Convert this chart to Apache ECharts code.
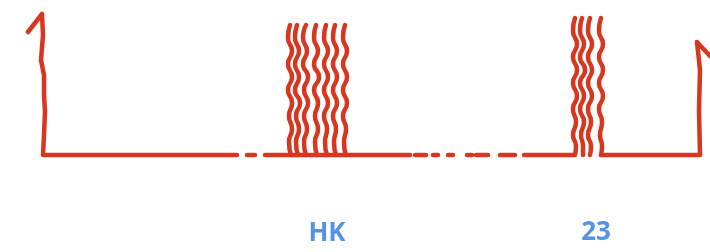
<!DOCTYPE html>
<html>
<head>
<meta charset="utf-8">
<script src="https://cdn.jsdelivr.net/npm/echarts@6/dist/echarts.min.js"></script>
<style>
  html, body { margin: 0; padding: 0; background: #fff; }
  #chart { width: 710px; height: 252px; }
</style>
</head>
<body>
<div id="chart"></div>
<script>
// picture coords: x to the right, y downward (axis is inverted)
var baseY = 155;

// solid strokes (hook on the left, flat runs, step up on the right)
var leftHook = [[28, 32], [42, 14], [43, 35], [41, 60], [44, 75], [44, 95], [45, 112], [44, 135], [43, 155], [237, 155]];
var midRun = [[290, 155], [410, 155]];
var rightRun = [[524, 155], [574, 155]];
var endRun = [[601, 155], [700, 155], [699, 110], [700, 70], [697, 42], [710, 56]];

// dashes on the baseline [start, end]
var dashes = [[247, 255], [265, 290], [415, 426], [433, 438], [448, 453], [467, 472], [476, 488], [500, 515]];

// wavy strands, block one (shared heights, x per strand)
var waveY1 = [25, 38, 51, 64, 77, 90, 103, 116, 129, 142, 155];
var wave1 = [
  [290, 288, 292, 288, 292, 288, 292, 289, 292, 289, 291],
  [297, 295, 299, 295, 299, 295, 300, 296, 299, 296, 298],
  [306, 303, 307, 303, 308, 304, 308, 304, 307, 304, 306],
  [316, 314, 318, 314, 319, 314, 318, 315, 318, 315, 317],
  [326, 324, 328, 324, 328, 324, 328, 324, 327, 325, 327],
  [335, 333, 337, 333, 337, 333, 337, 333, 336, 334, 336],
  [345, 343, 347, 343, 347, 343, 347, 343, 346, 344, 346]
];

// wavy strands, block two
var waveY2 = [18, 31, 44, 57, 70, 83, 96, 109, 122, 135, 146, 155];
var wave2 = [
  [575, 573, 577, 573, 577, 573, 577, 573, 576, 573, 576, 575],
  [582, 580, 584, 580, 585, 580, 584, 580, 584, 581, 583, 583],
  [590, 588, 592, 588, 592, 588, 592, 588, 591, 588, 591, 590],
  [601, 599, 603, 599, 603, 599, 603, 599, 602, 600, 602, 601]
];

// labels under the blocks
var labels = ['HK', '23'];
var labelPos = [[327, 234], [596, 233]];

var red = '#d8361e';
var blue = '#2a78df';

function join(parts) {
  var out = [];
  parts.forEach(function (p, i) {
    if (i > 0) out.push('-');
    out = out.concat(p);
  });
  return out;
}

var straight = join([leftHook, midRun, rightRun, endRun].concat(dashes.map(function (d) {
  return [[d[0], baseY], [d[1], baseY]];
})));

function strands(ys, xs) {
  return xs.map(function (row) {
    return row.map(function (x, i) { return [x, ys[i]]; });
  });
}
var waves = join(strands(waveY1, wave1).concat(strands(waveY2, wave2)));

var chart = echarts.init(document.getElementById('chart'));
var lineBase = { width: 4.5, color: red, cap: 'round', join: 'round' };
chart.setOption({
  animation: false,
  grid: { left: 0, right: 0, top: 0, bottom: 0 },
  xAxis: { type: 'value', min: 0, max: 710, show: false },
  yAxis: { type: 'value', min: 0, max: 252, inverse: true, show: false },
  series: [
    {
      name: 'trace',
      type: 'line',
      data: straight,
      showSymbol: false,
      connectNulls: false,
      lineStyle: lineBase
    },
    {
      name: 'waves',
      type: 'line',
      data: waves,
      smooth: 0.6,
      showSymbol: false,
      connectNulls: false,
      lineStyle: lineBase
    },
    {
      name: 'labels',
      type: 'scatter',
      symbolSize: 0,
      data: labelPos.map(function (p, i) { return { name: labels[i], value: p }; }),
      label: {
        show: true,
        position: 'inside',
        formatter: '{b}',
        color: blue,
        fontSize: 26,
        fontFamily: 'Open Sans',
        fontWeight: 'bold'
      }
    }
  ]
});
</script>
</body>
</html>
